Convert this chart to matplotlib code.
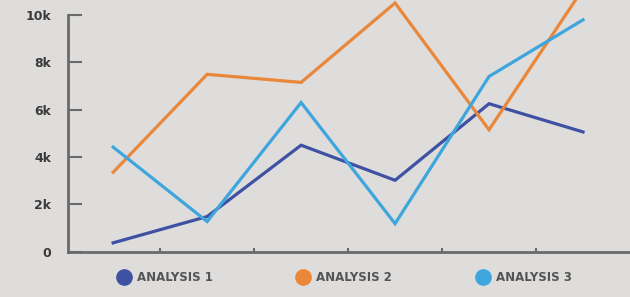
import matplotlib.pyplot as plt
from matplotlib.lines import Line2D

periods = [0, 1, 2, 3, 4, 5]
analysis_1 = [380, 1490, 4500, 3020, 6250, 5060]
analysis_2 = [3360, 7490, 7150, 10500, 5150, 11100]
analysis_3 = [4420, 1280, 6300, 1190, 7400, 9790]
series_names = ["ANALYSIS 1", "ANALYSIS 2", "ANALYSIS 3"]
colors = ["#3f51a3", "#e9873a", "#3ea6dc"]
y_ticks = [0, 2000, 4000, 6000, 8000, 10000]
y_labels = ["0", "2k", "4k", "6k", "8k", "10k"]

fig = plt.figure(figsize=(6.3, 2.97), dpi=100)
fig.patch.set_facecolor("#dedddc")
ax = fig.add_axes([0.108, 0.152, 0.892, 0.798])
ax.set_facecolor("#dedddc")

for vals, c in zip([analysis_1, analysis_2, analysis_3], colors):
    ax.plot(periods, vals, color=c, lw=2.3, clip_on=False, solid_joinstyle="miter")

ax.set_xlim(-0.48, 5.5)
ax.set_ylim(0, 10000)
ax.set_yticks(y_ticks)
ax.set_yticklabels(y_labels, fontsize=9, fontweight="bold", color="#3a3a3a")
ax.set_xticks([0.5, 1.5, 2.5, 3.5, 4.5])
ax.set_xticklabels([])

for s in ["top", "right"]:
    ax.spines[s].set_visible(False)
for s in ["left", "bottom"]:
    ax.spines[s].set_color("#6a6a6a")
    ax.spines[s].set_linewidth(2)

ax.tick_params(axis="y", direction="in", length=10, width=1.5, color="#6a6a6a", pad=12)
ax.tick_params(axis="x", direction="in", length=3, width=1.5, color="#6a6a6a")

handles = [Line2D([], [], ls="", marker="o", markersize=11, color=c) for c in colors]
leg = fig.legend(handles, series_names, loc="center left", bbox_to_anchor=(0.172, 0.065),
                 ncol=3, frameon=False, handlelength=0.8, handletextpad=0.7,
                 columnspacing=7.3, prop={"size": 8.5, "weight": "bold"})
for t in leg.get_texts():
    t.set_color("#555555")

fig.savefig("out.png", dpi=100, facecolor=fig.get_facecolor())
